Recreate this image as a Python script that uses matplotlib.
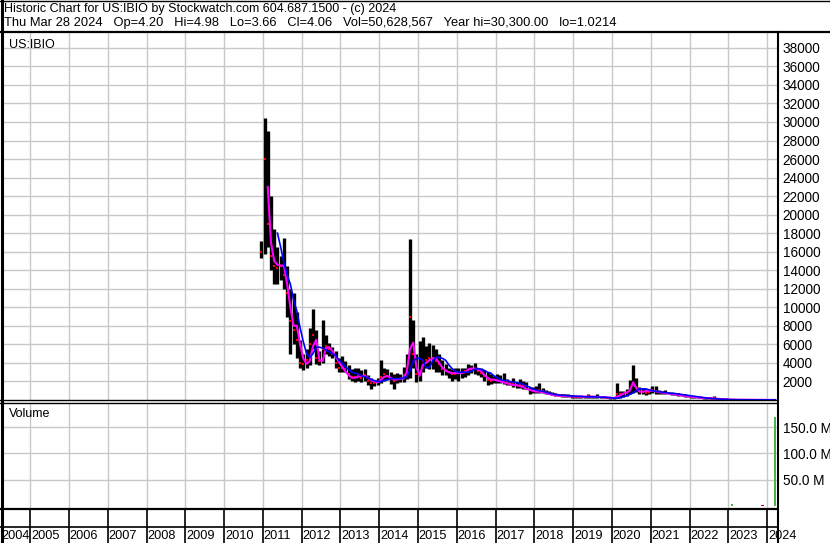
import numpy as np
import matplotlib
matplotlib.use("Agg")
import matplotlib.pyplot as plt

plt.rcParams['font.family'] = ['Liberation Sans', 'DejaVu Sans']

# monthly bars, Dec 2010 .. Mar 2024
first_year, first_month = 2010, 12

high = [17200,
        30400, 29000, 22000, 18500, 16500, 15500, 17500, 14500, 12000, 11500, 9500, 6500,
        5000, 5500, 7800, 9800, 7500, 5300, 8600, 7000, 6200, 5700, 5300, 4500,
        4800, 4200, 3800, 3300, 3400, 3500, 3200, 3300, 2700, 2400, 2200, 2400,
        4300, 3500, 3300, 3000, 2800, 2900, 2800, 3600, 5000, 17400, 8600, 5000,
        6400, 6800, 5800, 6200, 5900, 5500, 5000, 4300, 3900, 3500, 3300, 3400,
        3500, 3400, 3500, 3900, 3800, 4000, 3500, 3400, 3200, 3000, 2800, 2600,
        2800, 2700, 2900, 2300, 2100, 2400, 1900, 2300, 2100, 1900, 1400, 1400,
        1500, 1800, 1300, 1100, 1000, 900, 800, 700, 700, 600, 600, 550,
        500, 480, 460, 450, 700, 450, 430, 600, 400, 380, 330, 300,
        350, 1800, 1000, 1000, 1200, 2200, 3800, 2400, 1400, 1300, 1200, 1200,
        1500, 1500, 1100, 1000, 1100, 900, 850, 800, 750, 700, 600, 550,
        450, 400, 380, 350, 300, 280, 260, 450, 250, 200, 150, 120,
        60, 50, 45, 40, 35, 30, 30, 25, 25, 20, 20, 18,
        15, 12, 10]

low = [15300,
       15800, 16500, 14000, 12500, 12500, 13000, 12000, 9000, 5000, 6000, 4500, 3500,
       3200, 3400, 3800, 5500, 3900, 3800, 4000, 5000, 4800, 4500, 3500, 3000,
       3000, 3000, 2300, 2000, 1900, 2000, 1900, 2000, 1600, 1200, 1500, 1600,
       1800, 2100, 2200, 1700, 1200, 1800, 1900, 1900, 2300, 2400, 3500, 1900,
       2000, 3000, 3500, 3300, 3300, 3000, 3000, 2700, 2700, 2400, 2100, 2300,
       2100, 2400, 2500, 2700, 2900, 2800, 2700, 2500, 2100, 1600, 1700, 1800,
       1800, 1800, 1700, 1600, 1600, 1400, 1300, 1300, 1200, 1200, 700, 800,
       800, 800, 800, 700, 600, 500, 400, 400, 350, 300, 300, 250,
       250, 250, 250, 250, 250, 250, 230, 220, 200, 200, 180, 150,
       150, 250, 200, 350, 400, 600, 800, 900, 600, 600, 500, 600,
       800, 700, 600, 650, 600, 600, 550, 500, 450, 400, 350, 300,
       250, 220, 200, 180, 150, 140, 120, 120, 100, 80, 60, 40,
       30, 25, 20, 20, 18, 15, 15, 12, 12, 10, 10, 8,
       5, 4, 3]

close = [16000,
         26000, 19000, 15500, 14500, 14200, 14500, 13500, 11500, 8500, 7500, 6500, 4000,
         3900, 4300, 6000, 7000, 4500, 4200, 5500, 5800, 5500, 5000, 4000, 3500,
         3500, 3300, 2800, 2500, 2500, 2600, 2400, 2700, 2100, 1800, 1800, 1900,
         2500, 2800, 2600, 2300, 2000, 2300, 2300, 2700, 3500, 9000, 5000, 2800,
         2900, 4200, 4300, 4500, 4500, 4200, 3900, 3300, 3100, 3000, 2800, 2800,
         2900, 2900, 3100, 3200, 3300, 3300, 3100, 2900, 2600, 2200, 2100, 2200,
         2200, 2100, 2000, 1900, 1800, 1800, 1600, 1600, 1500, 1500, 1100, 1100,
         1100, 1100, 1000, 900, 800, 700, 600, 550, 500, 450, 450, 400,
         350, 350, 350, 350, 400, 350, 330, 350, 300, 280, 250, 220,
         250, 700, 600, 600, 800, 1200, 1700, 1400, 1000, 900, 800, 900,
         1100, 1000, 900, 850, 800, 750, 700, 650, 600, 550, 450, 400,
         350, 300, 280, 250, 220, 200, 180, 200, 150, 120, 100, 60,
         40, 35, 30, 28, 25, 22, 20, 18, 16, 14, 12, 10,
         9, 8, 4]

nan = float("nan")
ma_fast = [nan,
           nan, 23000, 17000, 15000, 14600, 14500, 14500, 12500, 10000, 8000, 8000, 6000,
           4500, 3900, 4200, 5800, 6500, 4300, 4200, 5600, 5700, 5300, 4700, 4100,
           3600, 3100, 2700, 2400, 2400, 2500, 2600, 2600, 2400, 2100, 2000, 1900,
           2200, 2500, 2600, 2400, 2200, 2200, 2300, 2300, 3000, 5500, 6200, 3500,
           2600, 3800, 4000, 4300, 4500, 4500, 4000, 3500, 3200, 3000, 2900, 2900,
           2900, 2900, 3000, 3300, 3400, 3400, 3300, 3100, 2700, 2400, 2200, 2200,
           2100, 2000, 1900, 1800, 1700, 1600, 1600, 1500, 1400, 1200, 1100, 1000,
           900, 900, 850, 750, 650, 550, 500, 450, 450, 400, 400, 380,
           380, 370, 360, 350, 350, 370, 360, 330, 320, 300, 280, 250,
           200, 350, 500, 700, 800, 1000, 1900, 1300, 900, 900, 950, 1000,
           1000, 950, 850, 800, 750, 700, 650, 600, 550, 500, 450, 400,
           350, 300, 280, 250, 220, 200, 180, 170, 130, 100, 70, 50,
           40, 35, 30, 28, 25, 22, 20, 18, 16, 14, 12, 10,
           9, 9, 9]

ma_slow = [nan,
           nan, nan, nan, nan, 18000, 16500, 14800, 13500, 12500, 10800, 9600, 7800,
           6300, 5000, 4600, 5000, 5700, 5700, 5600, 5400, 5200, 5000, 4800, 4300,
           4000, 3600, 3300, 3000, 2900, 2800, 2600, 2500, 2400, 2200, 2100, 2000,
           2000, 2100, 2200, 2300, 2300, 2300, 2300, 2400, 2500, 3200, 4200, 4500,
           4500, 4300, 3500, 3500, 4200, 4600, 4600, 4500, 4300, 3800, 3400, 3100,
           3000, 3000, 3000, 3000, 3100, 3300, 3400, 3300, 3200, 3000, 2900, 2600,
           2400, 2200, 2100, 2100, 2000, 1900, 1900, 1800, 1700, 1500, 1400, 1200,
           1100, 1000, 950, 850, 750, 650, 600, 550, 500, 500, 450, 450,
           400, 400, 400, 350, 350, 350, 350, 300, 300, 300, 280, 250,
           200, 200, 250, 350, 450, 600, 800, 1000, 1200, 1200, 1200, 1100,
           1000, 950, 900, 850, 800, 750, 700, 700, 650, 600, 550, 500,
           450, 400, 350, 300, 250, 200, 180, 150, 120, 100, 80, 60,
           50, 40, 35, 30, 28, 25, 22, 20, 18, 16, 15, 14,
           13, 12, 12]

# volume (only a few visible bars)
vol_dates = [2023.10, 2023.88, 2024.205]
vol_values = [4e6, 2e6, 169e6]
vol_colors = ["#4caf50", "#e00000", "#4caf50"]

price_ticks = list(range(2000, 38001, 2000))
vol_ticks = [50e6, 100e6, 150e6]
vol_labels = ["50.0 M", "100.0 M", "150.0 M"]
years = list(range(2004, 2025))

title1 = "Historic Chart for US:IBIO by Stockwatch.com 604.687.1500 - (c) 2024"
title2 = ("Thu Mar 28 2024   Op=4.20   Hi=4.98   Lo=3.66   Cl=4.06   "
          "Vol=50,628,567   Year hi=30,300.00   lo=1.0214")

# month centres as fractional years
n = len(close)
t = []
y, m = first_year, first_month
for _ in range(n):
    t.append(y + (m - 0.5) / 12)
    m += 1
    if m > 12:
        m = 1
        y += 1
t = np.array(t)

W, H = 830, 543
GRID = "#c8c8c8"
XMIN, XMAX = 2004.30, 2024.253


def box(x0, y0, x1, y1):
    return [x0 / W, 1 - y1 / H, (x1 - x0) / W, (y1 - y0) / H]


fig = plt.figure(figsize=(W / 100, H / 100), dpi=100)
fig.patch.set_facecolor("white")

# price panel
ax = fig.add_axes(box(3, 33, 777, 400))
ax.set_xlim(XMIN, XMAX)
ax.set_ylim(0, 39600)
for yr in years[1:]:
    ax.axvline(yr, color=GRID, lw=1, zorder=0)
for v in price_ticks:
    ax.axhline(v, color=GRID, lw=1, zorder=0)
ax.vlines(t, low, high, color="black", lw=2.4, zorder=2)
ax.plot(t, close, "s", color="#ff0000", ms=2, mew=0, zorder=3)
ax.plot(t, ma_fast, color="#ff00ff", lw=1.5, zorder=4)
ax.plot(t, ma_slow, color="#0000ff", lw=1.2, zorder=5)
ax.yaxis.tick_right()
ax.set_yticks(price_ticks)
ax.set_yticklabels([str(v) for v in price_ticks])
ax.tick_params(axis="y", length=0, pad=4, labelsize=9.8)
ax.set_xticks([])
for s in ax.spines.values():
    s.set_visible(False)
ax.text(0.008, 0.985, "US:IBIO", transform=ax.transAxes, ha="left", va="top", fontsize=9)

# volume panel
vax = fig.add_axes(box(3, 403, 777, 509))
vax.set_xlim(XMIN, XMAX)
vax.set_ylim(-6e6, 196e6)
for yr in years[1:]:
    vax.axvline(yr, color=GRID, lw=1, zorder=0)
for v in vol_ticks:
    vax.axhline(v, color=GRID, lw=1, zorder=0)
vax.bar(vol_dates, vol_values, width=0.06, bottom=0, color=vol_colors, zorder=3)
vax.yaxis.tick_right()
vax.set_yticks(vol_ticks)
vax.set_yticklabels(vol_labels)
vax.tick_params(axis="y", length=0, pad=4, labelsize=9.8)
vax.set_xticks([])
for s in vax.spines.values():
    s.set_visible(False)
vax.text(0.008, 0.95, "Volume", transform=vax.transAxes, ha="left", va="top", fontsize=9)

# year strip
sax = fig.add_axes(box(3, 509, 777, 543))
sax.set_xlim(XMIN, XMAX)
sax.set_ylim(0, 1)
sax.axis("off")
for yr in years[1:]:
    sax.axvline(yr, color="black", lw=1.2)
for yr in years:
    sax.text(max(yr, XMIN - 0.07) + 0.02, 0.2, str(yr), ha="left", va="center",
             fontsize=9.2, clip_on=False)

# frame lines in pixel coordinates
fr = fig.add_axes([0, 0, 1, 1], facecolor="none")
fr.set_xlim(0, W)
fr.set_ylim(H, 0)
fr.axis("off")
fr.plot([0, W], [0.5, 0.5], color="black", lw=1)
fr.plot([0, W], [32, 32], color="black", lw=1.6)
fr.plot([1.5, 1.5], [0, H], color="black", lw=2.2)
fr.plot([777.8, 777.8], [32, H], color="black", lw=1.5)
fr.plot([0, 777], [400, 400], color="black", lw=1)
fr.plot([0, 777], [402.5, 402.5], color="black", lw=1)
fr.plot([0, 777], [509, 509], color="black", lw=1.6)
fr.plot([0, 777], [527, 527], color="black", lw=1.2)

fig.text(4 / W, 1 - 9 / H, title1, ha="left", va="center", fontsize=9)
fig.text(4 / W, 1 - 23 / H, title2, ha="left", va="center", fontsize=9.3)

fig.savefig("out.png", dpi=100, facecolor="white")
